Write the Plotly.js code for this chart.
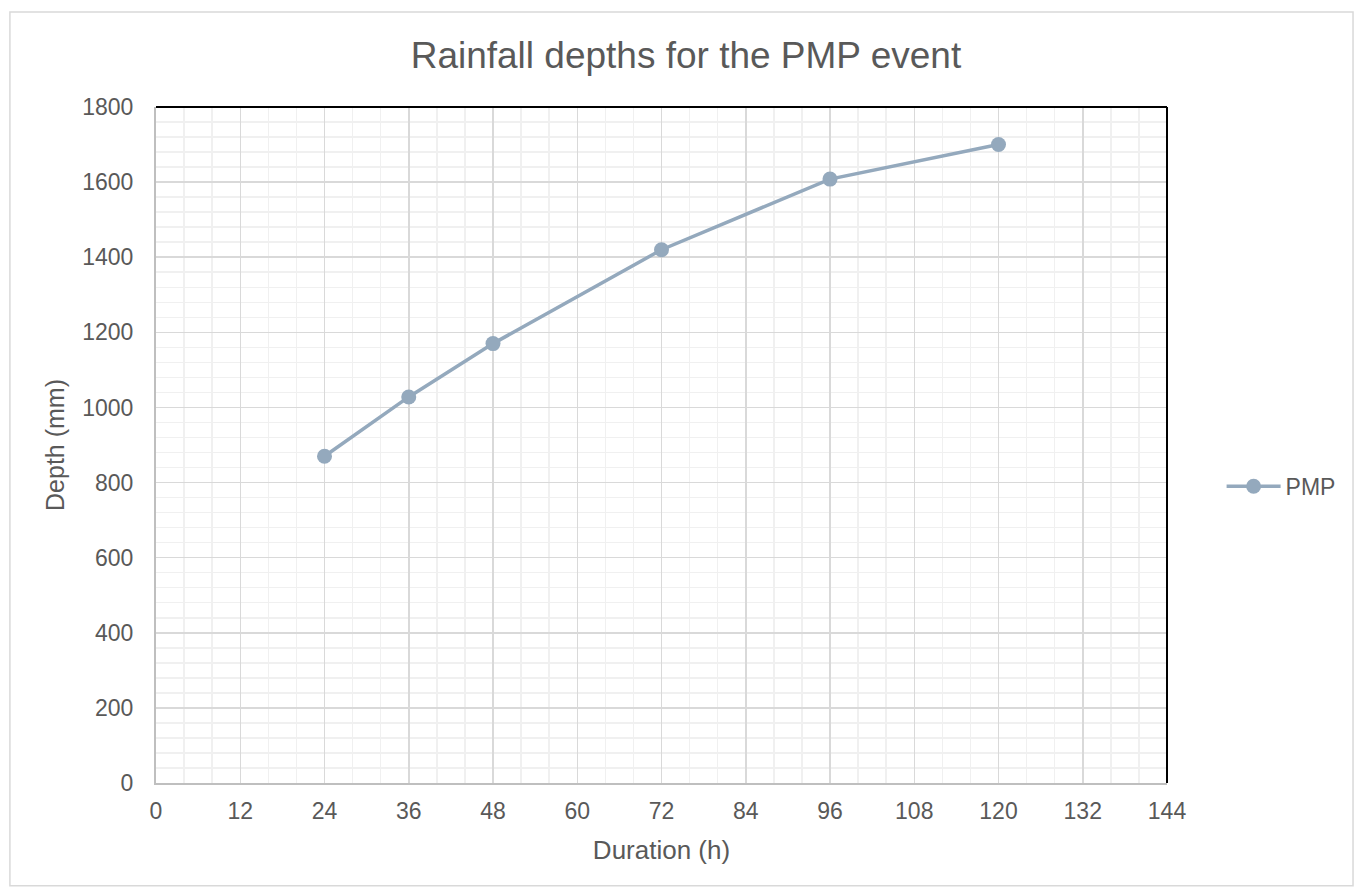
<!DOCTYPE html>
<html>
<head>
<meta charset="utf-8">
<script src="https://cdn.plot.ly/plotly-3.0.1.min.js"></script>
<style>html,body{margin:0;padding:0;background:#fff;}#chart{width:1354px;height:887px;}</style>
</head>
<body>
<div id="chart"></div>
<script>
const durations = [24, 36, 48, 72, 96, 120];
const depths = [870, 1028, 1170, 1420, 1608, 1700];
const seriesName = "PMP";
const xTicks = [0, 12, 24, 36, 48, 60, 72, 84, 96, 108, 120, 132, 144];
const yTicks = [0, 200, 400, 600, 800, 1000, 1200, 1400, 1600, 1800];

const font = {family: "Liberation Sans, Arial, sans-serif", color: "#595959"};
const trace = {
  x: durations, y: depths, name: seriesName, type: "scatter", mode: "lines+markers",
  line: {color: "#94a9bd", width: 3.5},
  marker: {color: "#94a9bd", size: 15}
};
const layout = {
  width: 1354, height: 887,
  margin: {l: 156, r: 187, t: 107, b: 104},
  paper_bgcolor: "#fff", plot_bgcolor: "#fff",
  font: font,
  title: {text: "Rainfall depths for the PMP event", x: 0.5066, xanchor: "center", y: 0.938, yanchor: "middle",
          font: {family: font.family, color: "#595959", size: 37}},
  showlegend: true,
  legend: {x: 1.054, y: 0.439, xanchor: "left", yanchor: "middle", itemwidth: 54,
           font: {size: 23, color: "#595959"}, bgcolor: "rgba(0,0,0,0)"},
  xaxis: {
    range: [0, 144], tickvals: xTicks, ticktext: xTicks.map(String),
    showgrid: true, gridcolor: "#d9d9d9", gridwidth: 1.5,
    minor: {dtick: 4, tick0: 0, showgrid: true, gridcolor: "#f0f0f0", gridwidth: 1.5},
    showline: true, linecolor: "#bfbfbf", linewidth: 2, zeroline: false,
    ticks: "outside", ticklen: 6, tickcolor: "rgba(0,0,0,0)", tickfont: {size: 23, color: "#595959"},
    title: {text: "Duration (h)", font: {size: 26, color: "#595959"}, standoff: 18}
  },
  yaxis: {
    range: [0, 1800], tickvals: yTicks, ticktext: yTicks.map(String),
    showgrid: true, gridcolor: "#d9d9d9", gridwidth: 1.5,
    minor: {dtick: 40, tick0: 0, showgrid: true, gridcolor: "#f0f0f0", gridwidth: 1.5},
    showline: true, linecolor: "#bfbfbf", linewidth: 2, zeroline: false,
    ticks: "outside", ticklen: 16, tickcolor: "rgba(0,0,0,0)", tickfont: {size: 23, color: "#595959"},
    title: {text: "Depth (mm)", font: {size: 25, color: "#595959"}, standoff: 10}
  },
  shapes: [
    {type: "line", xref: "paper", yref: "paper", x0: 0, x1: 1, y0: 1, y1: 1, line: {color: "#000", width: 2}},
    {type: "line", xref: "paper", yref: "paper", x0: 1, x1: 1, y0: 0, y1: 1, line: {color: "#000", width: 2}},
    {type: "rect", xref: "paper", yref: "paper", x0: -0.1445, x1: 1.184, y0: -0.152, y1: 1.1405, line: {color: "#d9d9d9", width: 1.5}, layer: "below"}
  ]
};
Plotly.newPlot("chart", [trace], layout, {displayModeBar: false, staticPlot: true});
</script>
</body>
</html>
